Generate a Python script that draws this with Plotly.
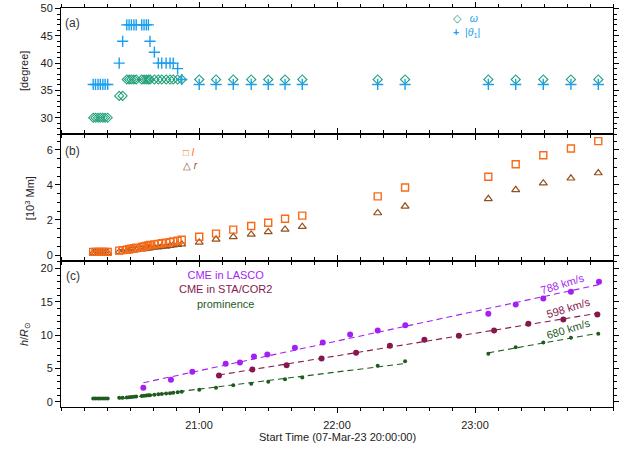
import numpy as np
import plotly.graph_objects as go
from plotly.subplots import make_subplots

# ---------------- data (minutes after 07-Mar-23 20:00:00) ----------------
t_early = [14.0, 15.0, 16.1, 17.1, 18.2, 19.2, 20.3]
t_dense = [25.3, 26.8, 28.6, 29.6, 30.6, 31.7, 32.7, 35.1, 36.1, 37.1,
           38.0, 38.7, 40.6, 42.3, 43.8, 45.7, 47.4, 48.8, 50.7, 52.5]
t_late = [60.1, 67.4, 74.9, 82.7, 90.1, 97.4, 104.9, 137.7, 149.6,
          185.8, 197.7, 209.7, 221.7, 233.6]

# panel (a) angles [degree]
omega_early = [30.0, 30.0, 30.0, 30.0, 30.0, 30.0, 30.0]
theta_early = [36.1, 36.1, 36.1, 36.1, 36.1, 36.1, 36.1]
omega_dense = [34, 34, 37, 37, 37, 37, 37, 37, 37, 37,
               37, 37, 37, 37, 37, 37, 37, 37, 37, 37]
theta_dense = [40, 44, 47, 47, 47, 47, 47, 47, 47, 47,
               47, 44, 42, 40, 40, 40, 40, 40, 39, 37]
omega_late = [37, 37, 37, 37, 37, 37, 37, 37, 37, 37, 37, 37, 37, 37]
theta_late = [36.1, 36.1, 36.1, 36.1, 36.1, 36.1, 36.1, 36.1, 36.1,
              36.1, 36.1, 36.1, 36.1, 36.1]

# panel (b) sizes [10^3 Mm]
l_early = [0.18, 0.18, 0.18, 0.18, 0.18, 0.18, 0.18]
r_early = [0.12, 0.12, 0.12, 0.12, 0.12, 0.12, 0.12]
l_dense = [0.25, 0.28, 0.31, 0.33, 0.36, 0.39, 0.42, 0.46, 0.49, 0.52,
           0.55, 0.58, 0.61, 0.64, 0.67, 0.70, 0.74, 0.78, 0.82, 0.87]
r_dense = [0.18, 0.20, 0.22, 0.24, 0.26, 0.28, 0.30, 0.33, 0.35, 0.37,
           0.39, 0.41, 0.43, 0.45, 0.48, 0.50, 0.53, 0.56, 0.59, 0.62]
l_late = [1.04, 1.22, 1.45, 1.66, 1.84, 2.07, 2.25, 3.35, 3.85,
          4.47, 5.18, 5.69, 6.08, 6.50]
r_late = [0.72, 0.90, 1.04, 1.18, 1.32, 1.46, 1.62, 2.40, 2.78,
          3.21, 3.72, 4.10, 4.38, 4.68]

# panel (c) heights [R_sun]
prom_early = [0.5, 0.5, 0.5, 0.5, 0.5, 0.5, 0.5]
prom_dense = [0.60, 0.62, 0.66, 0.70, 0.73, 0.76, 0.80, 0.86, 0.90, 0.93,
              0.97, 1.00, 1.06, 1.12, 1.18, 1.24, 1.30, 1.36, 1.42, 1.50]
prom_late = [1.8, 2.1, 2.5, 2.7, 3.0, 3.4, 3.65, 5.4, 6.1,
             7.2, 8.2, 8.9, 9.6, 10.2]
lasco_t = [35.8, 47.8, 57.1, 71.6, 77.8, 83.9, 89.7, 101.7, 113.8, 125.7,
           137.7, 149.7, 185.8, 197.7, 209.7, 221.7, 233.9]
lasco_h = [2.1, 3.3, 4.5, 5.7, 5.9, 6.8, 7.1, 8.1, 8.9, 10.1,
           10.7, 11.5, 13.2, 14.6, 15.5, 16.5, 18.0]
sta_t = [68.7, 83.2, 98.1, 113.3, 128.3, 143.0, 158.0, 173.0,
         188.3, 203.2, 218.4, 233.2]
sta_h = [3.96, 4.84, 5.5, 6.5, 7.36, 8.4, 9.3, 9.9, 10.7, 11.7, 12.35, 13.1]

speed_labels = ["788 km/s", "598 km/s", "680 km/s"]
series_names = ["CME in LASCO", "CME in STA/COR2", "prominence"]
x_tickvals = [60, 120, 180]
x_ticktext = ["21:00", "22:00", "23:00"]

# ---------------- styling ----------------
C_OMEGA = "#23a07a"
C_THETA = "#1a9ff0"
C_L = "#f86a18"
C_R = "#94501c"
C_LASCO = "#a41ff2"
C_STA = "#86184e"
C_PROM = "#1f5c1f"
FONT = "Liberation Sans, Arial, sans-serif"

fig = make_subplots(rows=3, cols=1, shared_xaxes=True, vertical_spacing=0)

t_all = t_early + t_dense + t_late

# (a)
fig.add_trace(go.Scatter(x=t_all, y=omega_early + omega_dense + omega_late,
                         mode="markers",
                         marker=dict(symbol="diamond-open", size=7, color=C_OMEGA,
                                     line=dict(width=1.1, color=C_OMEGA))), row=1, col=1)
fig.add_trace(go.Scatter(x=t_all, y=theta_early + theta_dense + theta_late,
                         mode="markers",
                         marker=dict(symbol="cross-thin-open", size=8, color=C_THETA,
                                     line=dict(width=1.4, color=C_THETA))), row=1, col=1)
# (b)
fig.add_trace(go.Scatter(x=t_all, y=r_early + r_dense + r_late, mode="markers",
                         marker=dict(symbol="triangle-up-open", size=7, color=C_R,
                                     line=dict(width=1.2, color=C_R))), row=2, col=1)
fig.add_trace(go.Scatter(x=t_all, y=l_early + l_dense + l_late, mode="markers",
                         marker=dict(symbol="square-open", size=7, color=C_L,
                                     line=dict(width=1.4, color=C_L))), row=2, col=1)

# (c) fits
def fit_line(x, y):
    x = np.asarray(x, float)
    p = np.polyfit(x, np.asarray(y, float), 1)
    xs = np.array([x.min(), x.max()])
    return xs, np.polyval(p, xs)

prom1_t = t_dense + t_late[:9]
prom1_h = prom_dense + prom_late[:9]
prom2_t = t_late[9:]
prom2_h = prom_late[9:]

dash = "6px,4px"
for (xx, yy, col) in [(lasco_t, lasco_h, C_LASCO), (sta_t, sta_h, C_STA),
                      (prom1_t, prom1_h, C_PROM), (prom2_t, prom2_h, C_PROM)]:
    fx, fy = fit_line(xx, yy)
    fig.add_trace(go.Scatter(x=fx, y=fy, mode="lines",
                             line=dict(color=col, width=1.1, dash=dash)), row=3, col=1)

fig.add_trace(go.Scatter(x=t_all, y=prom_early + prom_dense + prom_late, mode="markers",
                         marker=dict(symbol="circle", size=4, color=C_PROM)), row=3, col=1)
fig.add_trace(go.Scatter(x=sta_t, y=sta_h, mode="markers",
                         marker=dict(symbol="circle", size=6, color=C_STA)), row=3, col=1)
fig.add_trace(go.Scatter(x=lasco_t, y=lasco_h, mode="markers",
                         marker=dict(symbol="circle", size=6, color=C_LASCO)), row=3, col=1)

# ---------------- axes ----------------
H_TOP, H_BOT = 2, 46
plot_h = 453 - H_TOP - H_BOT
dom_c = [0, 148 / plot_h]
dom_b = [148 / plot_h, (148 + 129) / plot_h]
dom_a = [(148 + 129) / plot_h, 1]

common_ax = dict(showline=True, linecolor="black", linewidth=1, mirror="allticks",
                 ticks="outside", ticklen=5, tickwidth=1, tickcolor="black",
                 showgrid=False, zeroline=False,
                 tickfont=dict(family=FONT, size=11, color="#222"))
minor_x = dict(dtick=10, tick0=0, ticklen=3, tickwidth=1, tickcolor="black", ticks="outside")

for i in (1, 2, 3):
    fig.update_xaxes(range=[0, 240], tickmode="array", tickvals=x_tickvals,
                     ticktext=x_ticktext, minor=minor_x,
                     showticklabels=(i == 3), ticklabelstandoff=3,
                     row=i, col=1, **common_ax)

fig.update_yaxes(range=[27, 50.1], dtick=5, tick0=0,
                 minor=dict(dtick=1, ticklen=3, ticks="outside", tickcolor="black"),
                 domain=dom_a, row=1, col=1, **common_ax)
fig.update_yaxes(range=[-0.35, 6.9], dtick=2, tick0=0,
                 minor=dict(dtick=0.5, ticklen=3, ticks="outside", tickcolor="black"),
                 domain=dom_b, row=2, col=1, **common_ax)
fig.update_yaxes(range=[-0.78, 21.1], dtick=5, tick0=0,
                 minor=dict(dtick=1, ticklen=3, ticks="outside", tickcolor="black"),
                 domain=dom_c, row=3, col=1, **common_ax)

# ---------------- text ----------------
L, R = 61, 17
plot_w = 630 - L - R


def px(xp):
    return (xp - L) / plot_w


def py(yp):
    return (453 - H_BOT - yp) / plot_h


ann = []


def add_text(text, xp, yp, color="#222", size=11, angle=0, xanchor="center", align="center"):
    ann.append(dict(text=text, x=px(xp), y=py(yp), xref="paper", yref="paper",
                    showarrow=False, xanchor=xanchor, yanchor="middle", align=align,
                    textangle=angle, font=dict(family=FONT, size=size, color=color)))


add_text("(a)", 72, 17, size=12, color="#333")
add_text("(b)", 72.7, 146.7, size=12, color="#333")
add_text("(c)", 72.7, 274.3, size=12, color="#333")

add_text("[degree]", 24, 66, angle=-90)
add_text("[10<sup>3</sup> Mm]", 30, 195, angle=-90)
add_text("<i>h</i>/<i>R</i><sub>⊙</sub>", 25, 333, angle=-90)
add_text("Start Time (07-Mar-23 20:00:00)", 337, 437)

# panel (a) key
add_text("<span style='color:%s'>◇</span>   <i>ω</i><br>"
         "<span style='color:%s'><b>+</b></span>  |<i>θ</i><sub>1</sub>|" % (C_OMEGA, C_THETA),
         451, 20, color=C_THETA, size=10.5, xanchor="left", align="left")

# panel (b) key
add_text("<span style='color:%s'>□ <i>l</i></span><br>"
         "<span style='color:%s'>△ <i>r</i></span>" % (C_L, C_R),
         181, 155, color=C_L, size=10, xanchor="left", align="left")

# panel (c) key
add_text("<span style='color:%s'>%s</span><br><span style='color:%s'>%s</span><br>"
         "<span style='color:%s'>%s</span>" % (C_LASCO, series_names[0], C_STA,
                                               series_names[1], C_PROM, series_names[2]),
         225.7, 288, color=C_PROM, size=11)

add_text(speed_labels[0], 562, 282.5, color=C_LASCO, size=11, angle=-17)
add_text(speed_labels[1], 568, 306.7, color=C_STA, size=11, angle=-17)
add_text(speed_labels[2], 568, 328.3, color=C_PROM, size=11, angle=-17)

fig.update_layout(width=630, height=453, showlegend=False,
                  margin=dict(l=L, r=R, t=H_TOP, b=H_BOT),
                  paper_bgcolor="white", plot_bgcolor="white",
                  annotations=ann, font=dict(family=FONT))

fig.write_html("out.html", config={"displayModeBar": False},
               post_script="document.body.style.margin='0px';document.body.style.overflow='hidden';")
